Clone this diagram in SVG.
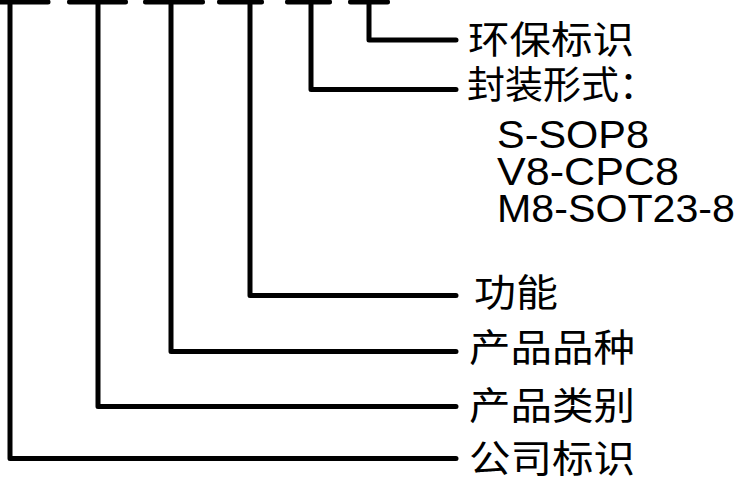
<svg xmlns="http://www.w3.org/2000/svg" width="739" height="479" viewBox="0 0 739 479">
<style>
.ln{fill:none;stroke:#000;stroke-width:5;stroke-linecap:round;stroke-linejoin:round}
.cjk{font-family:"Noto Sans CJK SC","Noto Sans CJK TC",sans-serif;font-size:38px;fill:#000}
.lat{font-family:"Liberation Sans",Arial,sans-serif;font-size:39px;fill:#000}
</style>
<rect width="739" height="479" fill="#fff"/>
<g id="code">
<line class="ln" x1="-3" y1="2" x2="48" y2="2"/>
<line class="ln" x1="69.5" y1="2" x2="125.5" y2="2"/>
<line class="ln" x1="145.5" y1="2" x2="202.5" y2="2"/>
<line class="ln" x1="219.5" y1="2" x2="261.5" y2="2"/>
<line class="ln" x1="287.5" y1="2" x2="329.5" y2="2"/>
<line class="ln" x1="350.5" y1="2" x2="387.5" y2="2"/>
</g>
<g id="connectors">
<path class="ln" d="M369,2 V40 H456"/>
<path class="ln" d="M311,2 V89.5 H456"/>
<path class="ln" d="M250,2 V295.5 H456"/>
<path class="ln" d="M171,2 V351.5 H456"/>
<path class="ln" d="M98,2 V406.5 H456"/>
<path class="ln" d="M10,2 V458.5 H456"/>
</g>
<g id="env"><text class="cjk" x="468" y="53" textLength="166" lengthAdjust="spacingAndGlyphs">环保标识</text></g>
<g id="package">
<text class="cjk" x="467" y="98" textLength="190" lengthAdjust="spacingAndGlyphs">封装形式：</text>
<text class="lat" x="497" y="148" textLength="152" lengthAdjust="spacingAndGlyphs">S-SOP8</text>
<text class="lat" x="497" y="185" textLength="182" lengthAdjust="spacingAndGlyphs">V8-CPC8</text>
<text class="lat" x="497" y="222" textLength="238" lengthAdjust="spacingAndGlyphs">M8-SOT23-8</text>
</g>
<g id="function"><text class="cjk" x="474" y="306" textLength="84" lengthAdjust="spacingAndGlyphs">功能</text></g>
<g id="variety"><text class="cjk" x="469" y="361" textLength="166" lengthAdjust="spacingAndGlyphs">产品品种</text></g>
<g id="category"><text class="cjk" x="469" y="419" textLength="166" lengthAdjust="spacingAndGlyphs">产品类别</text></g>
<g id="company"><text class="cjk" x="469" y="472" textLength="166" lengthAdjust="spacingAndGlyphs">公司标识</text></g>
</svg>
